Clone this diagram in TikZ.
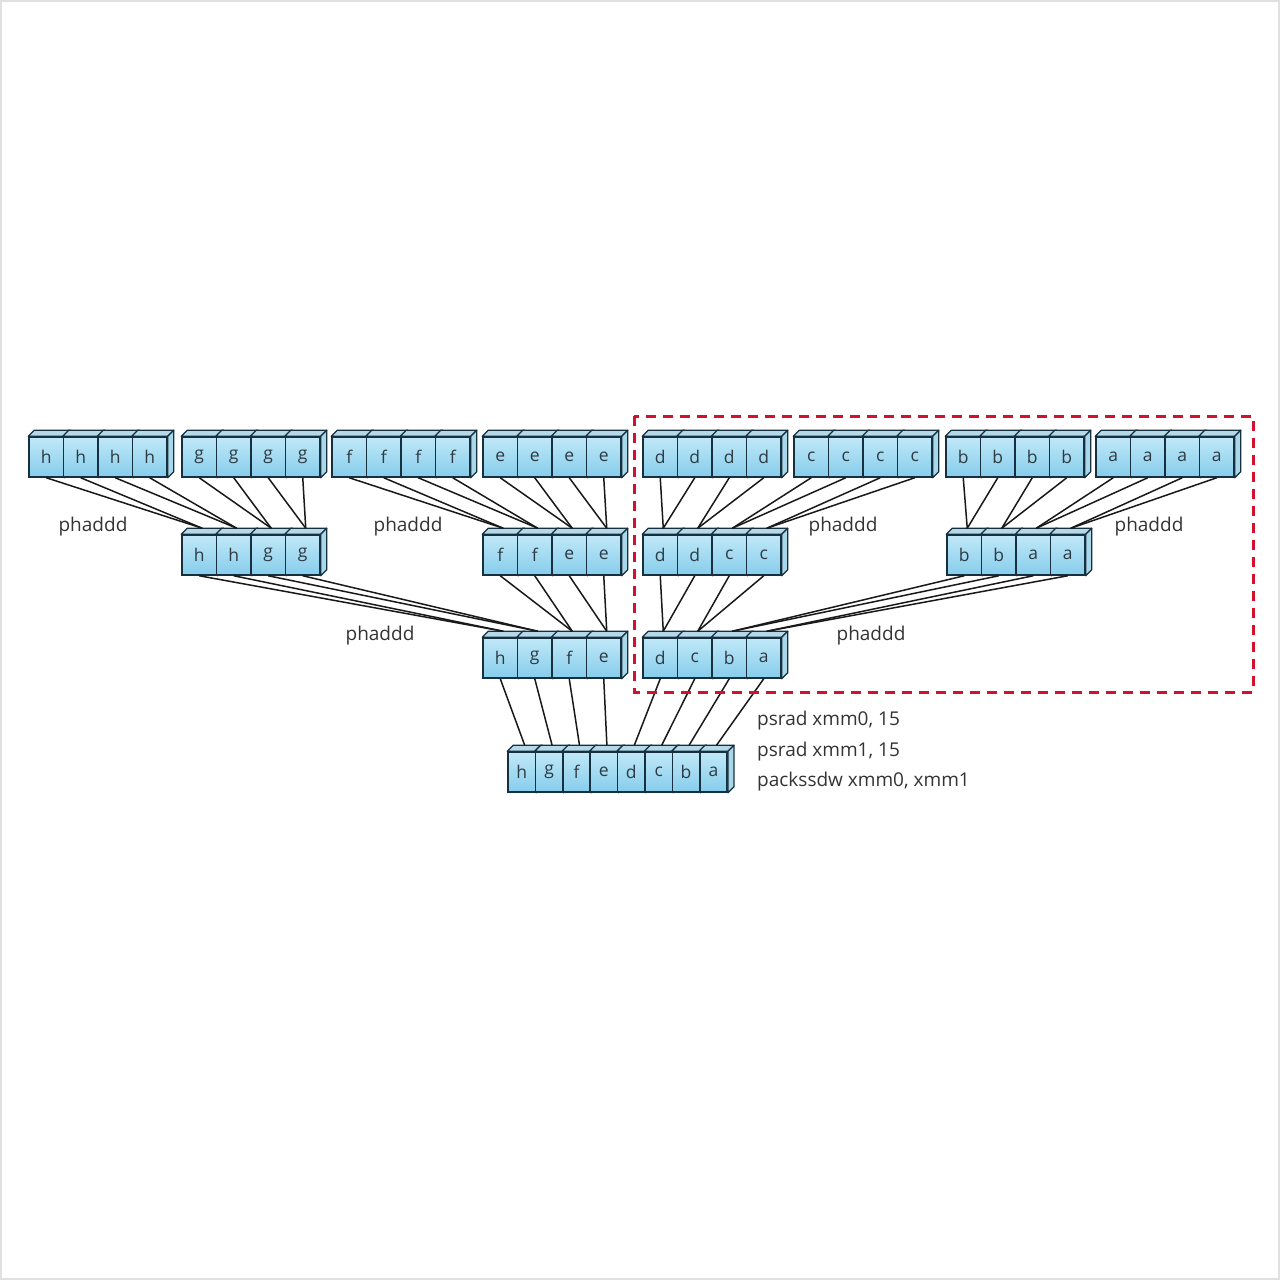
\documentclass[tikz,border=0pt]{standalone}
\usepackage{fontspec}
\setsansfont{Open Sans}
\usetikzlibrary{calc}
\definecolor{edge}{HTML}{16303F}
\definecolor{frontT}{HTML}{C0E8F8}
\definecolor{frontB}{HTML}{86CDEB}
\definecolor{topf}{HTML}{B5D9E8}
\definecolor{sidef}{HTML}{A8D8EA}
\definecolor{dashred}{HTML}{D3112E}
\definecolor{txt}{HTML}{2E3A42}
\tikzset{
 cellf/.style={draw=edge, line width=1.5pt, top color=frontT, bottom color=frontB, minimum height=40pt, inner sep=0pt, font=\sffamily\fontsize{17.5}{17.5}\selectfont, text=txt, anchor=center},
 face/.style={draw=edge, line width=1.3pt, line join=round},
 wire/.style={draw=black!90, line width=1.5pt},
 lbl/.style={font=\sffamily\fontsize{19}{20}\selectfont, text=black!80, inner sep=0pt},
}
% prefix, left x, top y, cell width, letters
\newcommand\regrow[5]{%
  \foreach \l [count=\i] in {#5} {
    \node[cellf, minimum width=#4 pt] (#1-\i) at ({#2+(\i-0.5)*#4}, {#3+20}) {\l};
    \draw[face, fill=topf] (#1-\i.north west) -- ++(6,-6) -- ($(#1-\i.north east)+(6,-6)$) -- (#1-\i.north east) -- cycle;
    \draw[face, fill=sidef] (#1-\i.north east) -- ++(6,-6) -- ($(#1-\i.south east)+(6,-6)$) -- (#1-\i.south east) -- cycle;
  }%
}
\begin{document}
\begin{tikzpicture}[x=1pt, y=-1pt]
\useasboundingbox (0,0) rectangle (1280,1280);
\draw[black!12, line width=2pt] (1,1) rectangle (1279,1279);

% top row
\regrow{t1}{29}{437}{34.5}{h,h,h,h}
\regrow{t2}{182}{437}{34.5}{g,g,g,g}
\regrow{t3}{332}{437}{34.5}{f,f,f,f}
\regrow{t4}{483}{437}{34.5}{e,e,e,e}
\regrow{t5}{643}{437}{34.5}{d,d,d,d}
\regrow{t6}{794}{437}{34.5}{c,c,c,c}
\regrow{t7}{946}{437}{34.5}{b,b,b,b}
\regrow{t8}{1096}{437}{34.5}{a,a,a,a}
% second row
\regrow{m1}{182}{535}{34.5}{h,h,g,g}
\regrow{m2}{483}{535}{34.5}{f,f,e,e}
\regrow{m3}{643}{535}{34.5}{d,d,c,c}
\regrow{m4}{947}{535}{34.5}{b,b,a,a}
% third row
\regrow{b1}{483}{638}{34.5}{h,g,f,e}
\regrow{b2}{643}{638}{34.5}{d,c,b,a}
% bottom row
\regrow{z}{508}{752}{27.4}{h,g,f,e,d,c,b,a}

% connectors top -> second
\foreach \k in {1,...,4} {
  \pgfmathtruncatemacro\ga{2*\k-1}
  \pgfmathtruncatemacro\gb{2*\k}
  \foreach \j/\c in {1/1,2/1,3/2,4/2} {
    \pgfmathtruncatemacro\cc{\c+2}
    \draw[wire] (t\ga-\j.south) -- ($(m\k-\c.north)+(3,-6)$);
    \draw[wire] (t\gb-\j.south) -- ($(m\k-\cc.north)+(3,-6)$);
  }
}
% second -> third
\foreach \k in {1,2} {
  \pgfmathtruncatemacro\ga{2*\k-1}
  \pgfmathtruncatemacro\gb{2*\k}
  \foreach \j/\c in {1/1,2/1,3/2,4/2} {
    \pgfmathtruncatemacro\cc{\c+2}
    \draw[wire] (m\ga-\j.south) -- ($(b\k-\c.north)+(3,-6)$);
    \draw[wire] (m\gb-\j.south) -- ($(b\k-\cc.north)+(3,-6)$);
  }
}
% third -> bottom
\foreach \j in {1,...,4} {
  \pgfmathtruncatemacro\jj{\j+4}
  \draw[wire] (b1-\j.south) -- ($(z-\j.north)+(3,-6)$);
  \draw[wire] (b2-\j.south) -- ($(z-\jj.north)+(3,-6)$);
}

% dashed frame
\draw[dashred, line width=3pt, dash pattern=on 10pt off 7pt] (634,416) rectangle (1253,692);

% labels
\node[lbl] (l1) at (93,527) {phaddd};
\node[lbl] (l2) at (408,527) {phaddd};
\node[lbl] (l3) at (843,527) {phaddd};
\node[lbl] (l4) at (1149,527) {phaddd};
\node[lbl] (l5) at (380,636) {phaddd};
\node[lbl] (l6) at (871,636) {phaddd};
\node[lbl, anchor=west] (r1) at (757,721) {psrad xmm0, 15};
\node[lbl, anchor=west] (r2) at (757,752) {psrad xmm1, 15};
\node[lbl, anchor=west] (r3) at (757,782) {packssdw xmm0, xmm1};
\end{tikzpicture}
\end{document}
